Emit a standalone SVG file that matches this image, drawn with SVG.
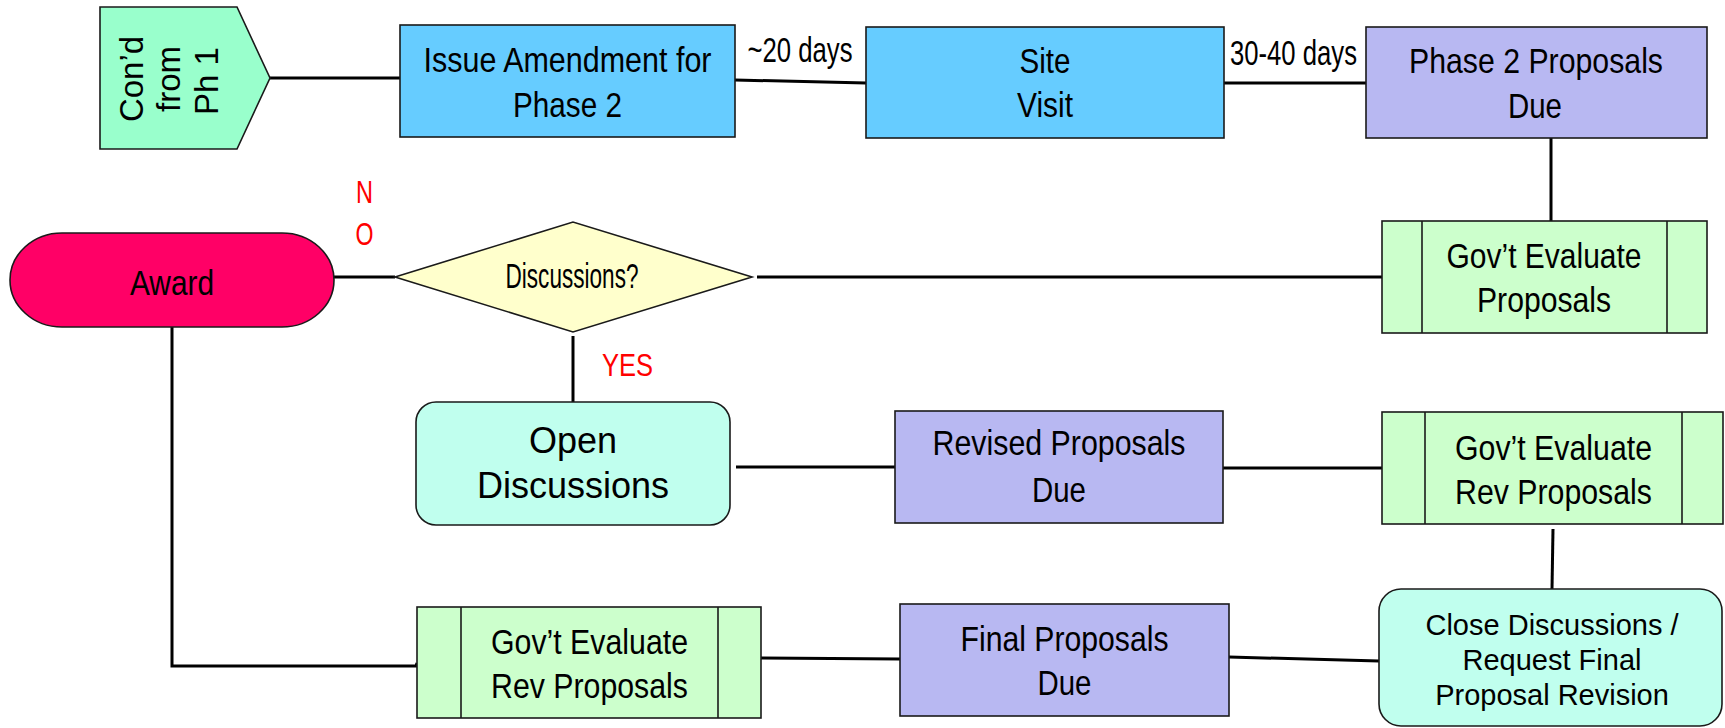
<svg xmlns="http://www.w3.org/2000/svg" width="1725" height="728" viewBox="0 0 1725 728">
<style>
.bx{stroke:#1a1a1a;stroke-width:1.6}
.blue{fill:#66CCFF}
.purple{fill:#B8B8F2}
.green{fill:#CCFFCC}
.mint{fill:#C0FFEE}
.c{font-family:"Liberation Sans",Arial,sans-serif;font-size:35px;fill:#000;text-anchor:middle}
.r{font-family:"Liberation Sans",Arial,sans-serif;fill:#000;text-anchor:middle}
.red{font-family:"Liberation Sans",Arial,sans-serif;font-size:31px;fill:#FF0000;text-anchor:middle}
.ln{stroke:#000;stroke-width:3;fill:none}
</style>
<rect width="1725" height="728" fill="#fff"/>
<g id="connectors">
<line class="ln" x1="266" y1="78" x2="403" y2="78"/>
<line class="ln" x1="735" y1="80" x2="866" y2="83"/>
<line class="ln" x1="1224" y1="83" x2="1366" y2="83"/>
<line class="ln" x1="1551" y1="138" x2="1551" y2="221"/>
<line class="ln" x1="1382" y1="277" x2="757" y2="277"/>
<line class="ln" x1="395" y1="277" x2="334" y2="277"/>
<line class="ln" x1="573" y1="336" x2="573" y2="402"/>
<line class="ln" x1="736" y1="467" x2="895" y2="467"/>
<line class="ln" x1="1223" y1="468" x2="1382" y2="468"/>
<line class="ln" x1="1553" y1="529" x2="1552" y2="589"/>
<line class="ln" x1="1379" y1="661" x2="1229" y2="657"/>
<line class="ln" x1="900" y1="659" x2="761" y2="658"/>
<polyline class="ln" points="172,327 172,666 416,666 417,663"/>
</g>
<g id="cond-ph1">
<polygon class="bx" fill="#99FFCC" points="100,7 237,7 270,78 237,149 100,149"/>
<text class="r" font-size="33" transform="translate(143,79) rotate(-90)">Con’d</text>
<text class="r" font-size="33" transform="translate(180,79) rotate(-90)">from</text>
<text class="r" font-size="33" transform="translate(218,81) rotate(-90)">Ph 1</text>
</g>
<g id="issue-amendment">
<rect class="bx blue" x="400" y="25" width="335" height="112"/>
<text class="c" x="567.5" y="72" textLength="288" lengthAdjust="spacingAndGlyphs">Issue Amendment for</text>
<text class="c" x="567.5" y="117" textLength="109" lengthAdjust="spacingAndGlyphs">Phase 2</text>
</g>
<g id="label-20days">
<text class="c" font-size="32" x="800" y="62" textLength="105" lengthAdjust="spacingAndGlyphs">~20 days</text>
</g>
<g id="site-visit">
<rect class="bx blue" x="866" y="27" width="358" height="111"/>
<text class="c" x="1045" y="73" textLength="51" lengthAdjust="spacingAndGlyphs">Site</text>
<text class="c" x="1045" y="117" textLength="56" lengthAdjust="spacingAndGlyphs">Visit</text>
</g>
<g id="label-30-40days">
<text class="c" font-size="32" x="1293.5" y="65" textLength="127" lengthAdjust="spacingAndGlyphs">30-40 days</text>
</g>
<g id="phase2-due">
<rect class="bx purple" x="1366" y="27" width="341" height="111"/>
<text class="c" x="1536" y="73" textLength="254" lengthAdjust="spacingAndGlyphs">Phase 2 Proposals</text>
<text class="c" x="1535" y="118" textLength="54" lengthAdjust="spacingAndGlyphs">Due</text>
</g>
<g id="gov-eval-1">
<rect class="bx green" x="1382" y="221" width="325" height="112"/>
<line class="bx" x1="1422" y1="221" x2="1422" y2="333"/>
<line class="bx" x1="1667" y1="221" x2="1667" y2="333"/>
<text class="c" x="1544" y="268" textLength="195" lengthAdjust="spacingAndGlyphs">Gov’t Evaluate</text>
<text class="c" x="1544" y="312" textLength="134" lengthAdjust="spacingAndGlyphs">Proposals</text>
</g>
<g id="discussions">
<polygon class="bx" fill="#FFFFCC" points="395,277 573,222 752,277 573,332"/>
<text class="c" font-size="28" x="572" y="288" textLength="133" lengthAdjust="spacingAndGlyphs">Discussions?</text>
</g>
<g id="label-no">
<text class="red" x="364.5" y="203" textLength="17" lengthAdjust="spacingAndGlyphs">N</text>
<text class="red" x="364.5" y="245" textLength="18" lengthAdjust="spacingAndGlyphs">O</text>
</g>
<g id="label-yes">
<text class="red" x="627.5" y="376" textLength="51" lengthAdjust="spacingAndGlyphs">YES</text>
</g>
<g id="award">
<rect class="bx" fill="#FF0066" x="10" y="233" width="324" height="94" rx="52" ry="47"/>
<text class="c" font-size="36" x="172" y="295" textLength="84" lengthAdjust="spacingAndGlyphs">Award</text>
</g>
<g id="open-discussions">
<rect class="bx mint" x="416" y="402" width="314" height="123" rx="20" ry="20"/>
<text class="r" font-size="36" x="573" y="453">Open</text>
<text class="r" font-size="36" x="573" y="498">Discussions</text>
</g>
<g id="revised-due">
<rect class="bx purple" x="895" y="411" width="328" height="112"/>
<text class="c" x="1059" y="455" textLength="253" lengthAdjust="spacingAndGlyphs">Revised Proposals</text>
<text class="c" x="1059" y="502" textLength="54" lengthAdjust="spacingAndGlyphs">Due</text>
</g>
<g id="gov-eval-rev-1">
<rect class="bx green" x="1382" y="412" width="341" height="112"/>
<line class="bx" x1="1425" y1="412" x2="1425" y2="524"/>
<line class="bx" x1="1682" y1="412" x2="1682" y2="524"/>
<text class="c" x="1553.5" y="460" textLength="197" lengthAdjust="spacingAndGlyphs">Gov’t Evaluate</text>
<text class="c" x="1553.5" y="504" textLength="197" lengthAdjust="spacingAndGlyphs">Rev Proposals</text>
</g>
<g id="close-discussions">
<rect class="bx mint" x="1379" y="589" width="343" height="137" rx="22" ry="22"/>
<text class="r" font-size="29" x="1552" y="635">Close Discussions /</text>
<text class="r" font-size="29" x="1552" y="670">Request Final</text>
<text class="r" font-size="29" x="1552" y="705">Proposal Revision</text>
</g>
<g id="final-due">
<rect class="bx purple" x="900" y="604" width="329" height="112"/>
<text class="c" x="1064.5" y="651" textLength="208" lengthAdjust="spacingAndGlyphs">Final Proposals</text>
<text class="c" x="1064.5" y="695" textLength="54" lengthAdjust="spacingAndGlyphs">Due</text>
</g>
<g id="gov-eval-rev-2">
<rect class="bx green" x="417" y="607" width="344" height="111"/>
<line class="bx" x1="461" y1="607" x2="461" y2="718"/>
<line class="bx" x1="718" y1="607" x2="718" y2="718"/>
<text class="c" x="589.5" y="654" textLength="197" lengthAdjust="spacingAndGlyphs">Gov’t Evaluate</text>
<text class="c" x="589.5" y="698" textLength="197" lengthAdjust="spacingAndGlyphs">Rev Proposals</text>
</g>
</svg>
